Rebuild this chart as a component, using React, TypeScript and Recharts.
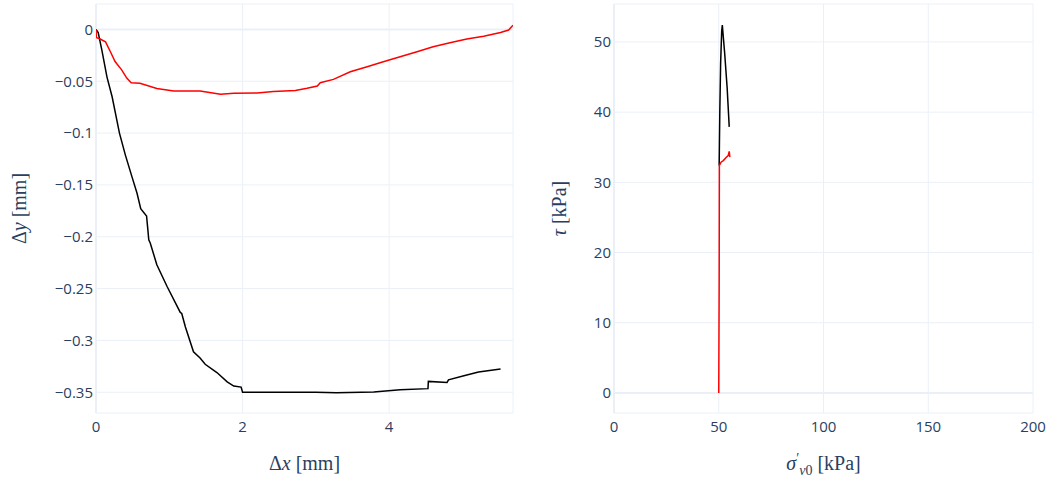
import React from 'react';
import {
  LineChart, Line, XAxis, YAxis, CartesianGrid, ReferenceLine, Label,
} from 'recharts';

// Left panel: horizontal vs vertical displacement
const blackDx = [0, 0.03, 0.08, 0.15, 0.22, 0.32, 0.4, 0.49, 0.56, 0.61, 0.69, 0.71, 0.72, 0.74, 0.83, 0.97, 1.15, 1.17, 1.22, 1.33, 1.42, 1.49, 1.65, 1.79, 1.88, 1.98, 2.0, 2.5, 3.0, 3.28, 3.79, 4.15, 4.53, 4.535, 4.79, 4.81, 5.02, 5.22, 5.52];
const blackDy = [0, -0.003, -0.02, -0.046, -0.065, -0.1, -0.121, -0.142, -0.158, -0.173, -0.18, -0.195, -0.203, -0.206, -0.227, -0.248, -0.273, -0.274, -0.287, -0.311, -0.317, -0.323, -0.331, -0.34, -0.344, -0.345, -0.35, -0.35, -0.35, -0.3505, -0.3497, -0.3475, -0.3465, -0.3395, -0.3405, -0.338, -0.334, -0.3305, -0.3276];
const redDx = [0, 0.005, 0.05, 0.13, 0.2, 0.26, 0.35, 0.42, 0.48, 0.6, 0.83, 1.06, 1.42, 1.7, 1.88, 2.2, 2.42, 2.72, 2.88, 3.02, 3.06, 3.24, 3.47, 3.7, 3.92, 4.15, 4.38, 4.6, 4.83, 5.06, 5.29, 5.52, 5.63, 5.69];
const redDy = [0, -0.008, -0.009, -0.012, -0.022, -0.031, -0.039, -0.047, -0.0515, -0.052, -0.057, -0.0594, -0.0594, -0.0626, -0.0617, -0.0613, -0.06, -0.059, -0.0568, -0.0546, -0.0514, -0.0482, -0.0408, -0.036, -0.0312, -0.0264, -0.0216, -0.0168, -0.0129, -0.0093, -0.0065, -0.0029, -0.0006, 0.004];

// Right panel: stress path
const blackSigma = [50.2, 50.5, 50.9, 51.4, 51.7, 52.8, 54.0, 55.0];
const blackTau = [32.4, 40, 47, 51.5, 52.4, 48.5, 43.5, 37.9];
const redSigma = [50.0, 50.2, 50.3, 51.2, 52.2, 53.4, 54.5, 55.0, 55.3];
const redTau = [0, 16, 32.4, 32.9, 33.1, 33.5, 33.8, 34.4, 33.6];

const dispXTicks = [0, 2, 4];
const dispYTicks = [0, -0.05, -0.1, -0.15, -0.2, -0.25, -0.3, -0.35];
const stressXTicks = [0, 50, 100, 150, 200];
const stressYTicks = [0, 10, 20, 30, 40, 50];

const zip = (xs: number[], ys: number[]) => xs.map((x, i) => ({ x, y: ys[i] }));

const GRID = '#ebf0f8';
const INK = '#2a3f5f';
const tick = { fill: INK, fontSize: 15, fontFamily: '"Open Sans", sans-serif' };
const serif = '"Liberation Serif", "DejaVu Serif", serif';

const minus = (v: number) => (v === 0 ? '0' : v < 0 ? '\u2212' + Math.abs(v) : String(v));

function xTitle(children: React.ReactNode) {
  return (props: any) => {
    const vb = props.viewBox;
    const cx = vb.x + vb.width / 2;
    return (
      <text x={cx} y={vb.y + 57} textAnchor="middle" fill={INK} fontFamily={serif} fontSize={20}>
        {children}
      </text>
    );
  };
}

function yTitle(cx: number, children: React.ReactNode) {
  return (props: any) => {
    const vb = props.viewBox;
    const cy = vb.y + vb.height / 2;
    return (
      <text x={cx} y={cy} textAnchor="middle" dominantBaseline="central" fill={INK}
        fontFamily={serif} fontSize={20} transform={`rotate(-90 ${cx} ${cy})`}>
        {children}
      </text>
    );
  };
}

export default function App() {
  return (
    <div style={{ position: 'absolute', left: 0, top: 0, width: 1057, height: 481, background: '#fff' }}>
      <div style={{ position: 'absolute', left: 0, top: 0 }}>
        <LineChart width={530} height={481} margin={{ top: 4, right: 17, bottom: 38, left: 36 }}>
          <CartesianGrid stroke={GRID} strokeWidth={1} />
          <XAxis type="number" dataKey="x" domain={[0, 5.69]} ticks={dispXTicks} allowDataOverflow
            axisLine={false} tickLine={false} tickSize={0} tickMargin={8} height={30} tick={tick}>
            <Label content={xTitle(<>{'\u0394'}<tspan fontStyle="italic">x</tspan>{' [mm]'}</>)} />
          </XAxis>
          <YAxis type="number" dataKey="y" domain={[-0.37, 0.0245]} ticks={dispYTicks} allowDataOverflow
            axisLine={false} tickLine={false} tickSize={0} tickMargin={3} width={60} tick={tick}
            tickFormatter={minus}>
            <Label content={yTitle(19, <>{'\u0394'}<tspan fontStyle="italic">y</tspan>{' [mm]'}</>)} />
          </YAxis>
          <ReferenceLine y={0} stroke={GRID} strokeWidth={2} />
          <ReferenceLine x={0} stroke={GRID} strokeWidth={2} />
          <Line data={zip(blackDx, blackDy)} dataKey="y" type="linear" stroke="#000" strokeWidth={1.5}
            dot={false} isAnimationActive={false} />
          <Line data={zip(redDx, redDy)} dataKey="y" type="linear" stroke="#ff0000" strokeWidth={1.5}
            dot={false} isAnimationActive={false} />
        </LineChart>
      </div>
      <div style={{ position: 'absolute', left: 530, top: 0 }}>
        <LineChart width={527} height={481} margin={{ top: 4, right: 24, bottom: 38, left: 24 }}>
          <CartesianGrid stroke={GRID} strokeWidth={1} />
          <XAxis type="number" dataKey="x" domain={[0, 200]} ticks={stressXTicks} allowDataOverflow
            axisLine={false} tickLine={false} tickSize={0} tickMargin={8} height={30} tick={tick}>
            <Label content={xTitle(<>
              <tspan fontStyle="italic">{'\u03c3'}</tspan>
              <tspan dy={-7} fontSize={14}>{'\u2032'}</tspan>
              <tspan dy={12} fontSize={14} fontStyle="italic">v</tspan>
              <tspan fontSize={14}>0</tspan>
              <tspan dy={-5}>{' [kPa]'}</tspan>
            </>)} />
          </XAxis>
          <YAxis type="number" dataKey="y" domain={[-2.85, 55.4]} ticks={stressYTicks} allowDataOverflow
            axisLine={false} tickLine={false} tickSize={0} tickMargin={3} width={60} tick={tick}>
            <Label content={yTitle(29, <><tspan fontStyle="italic">{'\u03c4'}</tspan>{' [kPa]'}</>)} />
          </YAxis>
          <ReferenceLine y={0} stroke={GRID} strokeWidth={2} />
          <ReferenceLine x={0} stroke={GRID} strokeWidth={2} />
          <Line data={zip(blackSigma, blackTau)} dataKey="y" type="linear" stroke="#000" strokeWidth={1.5}
            dot={false} isAnimationActive={false} />
          <Line data={zip(redSigma, redTau)} dataKey="y" type="linear" stroke="#ff0000" strokeWidth={1.5}
            dot={false} isAnimationActive={false} />
        </LineChart>
      </div>
    </div>
  );
}
